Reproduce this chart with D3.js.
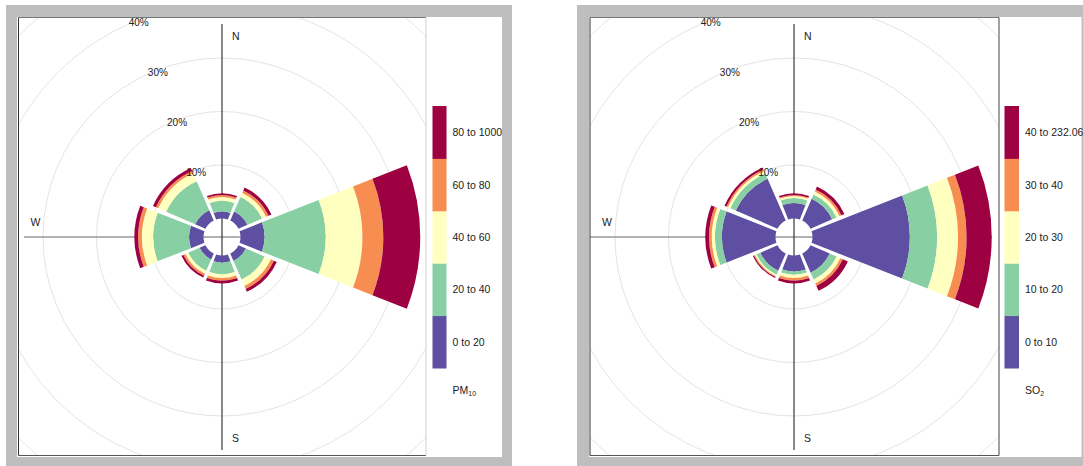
<!DOCTYPE html>
<html>
<head>
<meta charset="utf-8">
<script src="https://cdn.jsdelivr.net/npm/d3@7"></script>
<style>
  body { margin: 0; background: #fff; }
  svg { display: block; }
  text { font-family: "Liberation Sans", Arial, Helvetica, sans-serif; fill: #222; }
</style>
</head>
<body>
<svg id="chart" width="1083" height="466"></svg>
<script>
// Wind directions (degrees clockwise from north)
const directions = ["N", "NE", "E", "SE", "S", "SW", "W", "NW"];
const directionDegrees = [0, 45, 90, 135, 180, 225, 270, 315];

// Frequency rings (% of time)
const ringTicks = [10, 20, 30, 40];
const ringTickLabels = ["10%", "20%", "30%", "40%"];

// Shared colour ramp for the concentration bins
const binColours = ["#5E4FA2", "#88CFA4", "#FFFFBF", "#F88D52", "#9E0142"];

// PM10 rose: % frequency per direction for each concentration bin
const pm10Bins = ["0 to 20", "20 to 40", "40 to 60", "60 to 80", "80 to 1000"];
const pm10_0to20    = [1.3, 1.8, 4.5, 1.5, 1.35, 1.2, 2.7, 2.1];
const pm10_20to40   = [2.0, 3.0, 11.4, 3.8, 2.15, 2.3, 6.7, 5.9];
const pm10_40to60   = [0.7, 0.8, 6.9, 1.3, 0.7, 0.6, 2.1, 1.6];
const pm10_60to80   = [0.4, 0.5, 3.9, 0.6, 0.5, 0.4, 0.7, 0.5];
const pm10_80to1000 = [0.3, 0.6, 6.9, 0.6, 0.5, 0.4, 0.7, 0.6];

// SO2 rose: % frequency per direction for each concentration bin
const so2Bins = ["0 to 10", "10 to 20", "20 to 30", "30 to 40", "40 to 232.06"];
const so2_0to10    = [2.9, 4.4, 18.2, 3.9, 3.0, 3.5, 10.0, 8.5];
const so2_10to20   = [0.9, 0.9, 5.1, 1.4, 0.6, 0.8, 1.3, 1.1];
const so2_20to30   = [0.4, 0.6, 3.9, 0.8, 0.6, 0.3, 0.6, 0.5];
const so2_30to40   = [0.2, 0.4, 1.6, 0.5, 0.5, 0.2, 0.5, 0.3];
const so2_40to232  = [0.3, 0.6, 4.7, 1.0, 0.5, 0.2, 0.7, 0.4];

const svg = d3.select("#chart");
const frameGrey = "#bebebe";

function drawPanel(opts) {
  const { frameX, frameW, innerX, innerW, plotX, plotW, cx, cy, bins, series,
          keyX, keyW, titleMain, titleSub, plotRightStroke, id } = opts;
  const g = svg.append("g");

  // grey frame + white interior
  g.append("rect").attr("x", frameX).attr("y", 5).attr("width", frameW).attr("height", 470).attr("fill", frameGrey);
  g.append("rect").attr("x", innerX).attr("y", 17).attr("width", innerW).attr("height", 440).attr("fill", "#fff");

  const plotTop = 17.5, plotBottom = 455.5;

  // clip for the polar grid
  svg.append("clipPath").attr("id", id)
    .append("rect").attr("x", plotX).attr("y", plotTop).attr("width", plotW).attr("height", plotBottom - plotTop);

  const r = d3.scaleLinear().domain([0, 40]).range([18.5, 232.5]);

  const plot = g.append("g").attr("clip-path", `url(#${id})`);

  // grid rings
  plot.append("g").selectAll("circle")
    .data(d3.range(10, 80, 10))
    .join("circle")
    .attr("cx", cx).attr("cy", cy)
    .attr("r", d => r(d))
    .attr("fill", "none")
    .attr("stroke", "#e3e3e3")
    .attr("stroke-width", 1);

  // compass axes
  plot.append("line").attr("x1", 24).attr("x2", cx + 198).attr("y1", cy).attr("y2", cy)
    .attr("stroke", "#999").attr("stroke-width", 1.6);
  plot.append("line").attr("x1", cx).attr("x2", cx).attr("y1", 24).attr("y2", 450)
    .attr("stroke", "#111").attr("stroke-width", 1);

  // compass labels
  const compass = [
    { t: "N", x: cx + 10, y: 40, a: "start" },
    { t: "S", x: cx + 10, y: 442, a: "start" },
    { t: "W", x: plotX + 12, y: cy - 11, a: "start" }
  ];
  plot.append("g").selectAll("text").data(compass).join("text")
    .attr("x", d => d.x).attr("y", d => d.y)
    .attr("text-anchor", d => d.a)
    .attr("font-size", 10.5)
    .text(d => d.t);

  // stacked petals
  const rows = directionDegrees.map((deg, i) => {
    const row = { deg };
    bins.forEach((b, j) => { row[b] = series[j][i]; });
    return row;
  });
  const stacked = d3.stack().keys(bins)(rows);

  const half = 21.5 * Math.PI / 180;
  const arc = d3.arc()
    .innerRadius(d => r(d[0]))
    .outerRadius(d => r(d[1]))
    .startAngle(d => d.data.deg * Math.PI / 180 - half)
    .endAngle(d => d.data.deg * Math.PI / 180 + half)
    .padAngle(0.02)
    .padRadius(100);

  const petals = plot.append("g").attr("transform", `translate(${cx},${cy})`);
  stacked.forEach((layer, j) => {
    petals.append("g").selectAll("path")
      .data(layer)
      .join("path")
      .attr("d", arc)
      .attr("fill", binColours[j]);
  });

  // plot border
  g.append("line").attr("x1", plotX).attr("x2", plotX + plotW).attr("y1", plotTop).attr("y2", plotTop).attr("stroke", "#777");
  g.append("line").attr("x1", plotX).attr("x2", plotX + plotW).attr("y1", plotBottom).attr("y2", plotBottom).attr("stroke", "#555");
  g.append("line").attr("x1", plotX).attr("x2", plotX).attr("y1", plotTop).attr("y2", plotBottom).attr("stroke", "#333");
  g.append("line").attr("x1", plotX + plotW).attr("x2", plotX + plotW).attr("y1", plotTop).attr("y2", plotBottom).attr("stroke", plotRightStroke);

  // ring labels along a bearing slightly west of north
  const labAng = -21 * Math.PI / 180;
  g.append("g").selectAll("text")
    .data(ringTicks)
    .join("text")
    .attr("x", d => cx + r(d) * Math.sin(labAng))
    .attr("y", d => cy - r(d) * Math.cos(labAng) + 6.5)
    .attr("text-anchor", "middle")
    .attr("font-size", 10)
    .attr("fill", "#333")
    .text((d, i) => ringTickLabels[i]);

  // colour key
  const keyTop = 106, keyBottom = 368;
  const ky = d3.scaleBand().domain(d3.range(bins.length).reverse()).range([keyTop, keyBottom]);
  const key = g.append("g");
  key.selectAll("rect").data(bins).join("rect")
    .attr("x", keyX).attr("y", (d, i) => ky(i))
    .attr("width", keyW).attr("height", ky.bandwidth() + 0.5)
    .attr("fill", (d, i) => binColours[i]);
  key.selectAll("text").data(bins).join("text")
    .attr("x", keyX + keyW + 6)
    .attr("y", (d, i) => ky(i) + ky.bandwidth() / 2 + 4)
    .attr("font-size", 10.5)
    .text(d => d);

  const title = key.append("text").attr("x", keyX + keyW + 6).attr("y", 394).attr("font-size", 10.5);
  title.append("tspan").text(titleMain);
  title.append("tspan").attr("font-size", 7).attr("dy", 2).text(titleSub);
}

drawPanel({
  id: "clipPm10",
  frameX: 6, frameW: 506, innerX: 17, innerW: 485,
  plotX: 18.5, plotW: 407.5, cx: 222, cy: 237,
  bins: pm10Bins,
  series: [pm10_0to20, pm10_20to40, pm10_40to60, pm10_60to80, pm10_80to1000],
  keyX: 432.5, keyW: 14, titleMain: "PM", titleSub: "10",
  plotRightStroke: "#d0d0d0"
});

drawPanel({
  id: "clipSo2",
  frameX: 577, frameW: 520, innerX: 589, innerW: 492.5,
  plotX: 590, plotW: 409, cx: 794, cy: 237,
  bins: so2Bins,
  series: [so2_0to10, so2_10to20, so2_20to30, so2_30to40, so2_40to232],
  keyX: 1004.5, keyW: 14.5, titleMain: "SO", titleSub: "2",
  plotRightStroke: "#444"
});
</script>
</body>
</html>
